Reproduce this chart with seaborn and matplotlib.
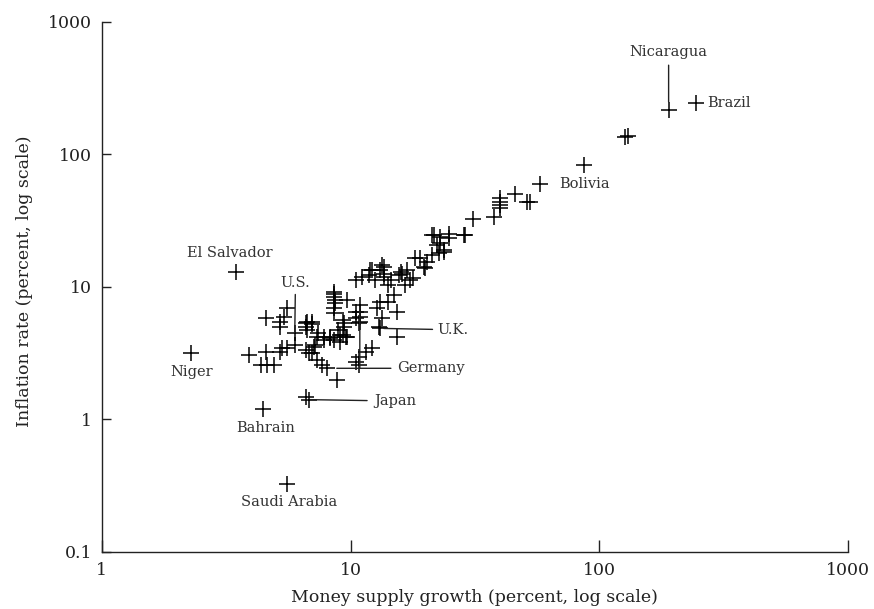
import numpy as np
import pandas as pd
import matplotlib
matplotlib.use("Agg")
import matplotlib.pyplot as plt
import seaborn as sns

# money supply growth vs inflation, both in percent
money_growth = [
    127, 130, 86.5, 51, 52.5, 45.7, 40, 40, 40, 40, 37.6, 31.1, 28.8, 24.8,
    21.6, 23, 23.7, 19.1, 20.3, 19.7, 22.3, 23.7, 22.6, 21.3, 18.2, 19.9,
    16.9, 15.9, 15.6, 17.9, 17.4, 16.6, 14.5, 14.2, 14.9, 13.6, 13.6, 13.2,
    13.4, 12.2, 11.9, 11.1, 10.5, 12.6, 8.57, 8.57, 8.7, 9.7, 8.57, 13.2,
    12.8, 14.2, 15.4, 13.4, 13.0, 15.4, 10.9, 10.9, 10.9, 10.9, 10.5, 10.5,
    10.8, 9.3, 9.4, 8.9, 9.3, 9.6, 8.3, 8.6, 7.8, 7.4, 12.2, 11.5, 10.8,
    10.5, 10.8, 6.7, 7.0, 6.6, 7.2, 6.8, 4.56, 5.57, 5.4, 5.23, 5.23, 6.6,
    7.0, 6.7, 9.1, 6.0, 5.57, 5.3, 5.23, 4.56, 3.9, 4.36, 4.63, 4.92, 6.6,
    7.0, 7.35, 7.7, 8.84, 7.35, 7.1, 7.8, 8.3, 9.1, 9.7, 8.57, 8.7, 8.57,
    9.4, 28.5, 24.8, 23.0, 21.3, 6.6, 12.0, 13.6, 16.1,
]
inflation = [
    135, 137, 83, 43.9, 43.4, 49.9, 46.4, 43.8, 41.4, 39.1, 33.8, 32.4, 24.6,
    25, 24.6, 21.3, 18.4, 16.4, 15.5, 14.2, 20.7, 18.9, 17.9, 17.4, 16.4,
    13.8, 13.4, 13.0, 12.3, 11.6, 11.3, 10.3, 11.3, 10.3, 8.7, 12.6, 11.9,
    13.4, 14.6, 13.4, 12.3, 11.9, 11.3, 11.3, 9.2, 8.4, 7.5, 7.95, 6.9, 7.7,
    6.9, 7.7, 6.5, 5.8, 5.0, 4.2, 7.3, 6.5, 5.95, 5.45, 6.5, 5.8, 5.3, 5.6,
    5.0, 4.72, 4.33, 4.2, 4.2, 3.97, 4.2, 4.46, 3.44, 3.24, 2.97, 2.7, 2.57,
    5.46, 5.2, 5.0, 3.64, 3.15, 5.85, 6.9, 5.96, 5.46, 5.0, 5.3, 5.46, 4.72,
    4.33, 3.64, 3.44, 3.44, 3.24, 3.24, 3.06, 2.57, 2.57, 2.57, 3.33, 3.15,
    2.81, 2.57, 1.98, 4.2, 3.53, 3.97, 4.1, 3.86, 4.2, 8.9, 7.95, 6.3, 5.3,
    24.6, 23.2, 23.9, 24.6, 1.47, 13.4, 14.2, 12.6,
]

countries = ["Nicaragua", "Brazil", "Bolivia", "El Salvador", "Niger",
             "Bahrain", "Saudi Arabia", "U.S.", "U.K.", "Germany", "Japan"]
country_growth = [190, 244, 58, 3.48, 2.29, 4.45, 5.57, 5.97, 13.2, 8.05, 6.8]
country_inflation = [215, 242, 60, 13.0, 3.15, 1.2, 0.326, 4.5, 4.86, 2.43, 1.41]

df = pd.DataFrame({
    "growth": money_growth + country_growth,
    "inflation": inflation + country_inflation,
})

sns.set_style("ticks")
plt.rcParams["font.family"] = ["DejaVu Serif"]

fig = plt.figure(figsize=(8.74, 6.09), dpi=100)
ax = fig.add_axes([0.1164, 0.0936, 0.8539, 0.8708])

sns.scatterplot(data=df, x="growth", y="inflation", marker="+", color="black",
                s=120, linewidth=1.1, ax=ax, legend=False)

ax.set_xscale("log")
ax.set_yscale("log")
ax.set_xlim(1, 1000)
ax.set_ylim(0.1, 1000)
ax.set_xticks([1, 10, 100, 1000])
ax.set_xticklabels(["1", "10", "100", "1000"])
ax.set_yticks([0.1, 1, 10, 100, 1000])
ax.set_yticklabels(["0.1", "1", "10", "100", "1000"])
ax.minorticks_off()

sns.despine(ax=ax)
for sp in ("left", "bottom"):
    ax.spines[sp].set_linewidth(1.0)
    ax.spines[sp].set_color("#222222")
ax.tick_params(axis="x", direction="in", length=9, width=1.0, pad=7,
               labelsize=12.5, colors="#222222")
ax.tick_params(axis="y", direction="in", length=6.7, width=1.0, pad=6.8,
               labelsize=12.5, colors="#222222")

ax.set_xlabel("Money supply growth (percent, log scale)", fontsize=12.5,
              color="#222222")
ax.set_ylabel("Inflation rate (percent, log scale)", fontsize=12.5,
              color="#222222")
ax.xaxis.set_label_coords(0.5, -0.070)
ax.yaxis.set_label_coords(-0.092, 0.51)

# label offsets in points, and leader line settings
label_style = {
    "Nicaragua":    dict(off=(0, 41.8), ha="center", va="center", line=(2, 6)),
    "Brazil":       dict(off=(8.6, 0), ha="left", va="center", line=None),
    "Bolivia":      dict(off=(13.7, 0), ha="left", va="center", line=None),
    "El Salvador":  dict(off=(-4.8, 13.7), ha="center", va="center", line=None),
    "Niger":        dict(off=(0, -13.2), ha="center", va="center", line=None),
    "Bahrain":      dict(off=(1.8, -13.5), ha="center", va="center", line=None),
    "Saudi Arabia": dict(off=(1, -12.7), ha="center", va="center", line=None),
    "U.S.":         dict(off=(0.5, 36), ha="center", va="center", line=(1, 0)),
    "U.K.":         dict(off=(41.3, -1), ha="left", va="center", line=(1.5, 2.4)),
    "Germany":      dict(off=(50.8, 0), ha="left", va="center", line=(2.5, 7)),
    "Japan":        dict(off=(47.3, -1), ha="left", va="center", line=(3, 1)),
}

for name, gx, iy in zip(countries, country_growth, country_inflation):
    st = label_style[name]
    arrow = None
    if st["line"] is not None:
        arrow = dict(arrowstyle="-", lw=1.0, color="#222222",
                     shrinkA=st["line"][0], shrinkB=st["line"][1])
    ax.annotate(name, xy=(gx, iy), xytext=st["off"], textcoords="offset points",
                ha=st["ha"], va=st["va"], fontsize=10.5, color="#333333",
                arrowprops=arrow)

# vertical part of the Germany leader
ger = countries.index("Germany")
ax.annotate("", xy=(10.9, 7.1), xytext=(10.9, country_inflation[ger]),
            arrowprops=dict(arrowstyle="-", lw=1.0, color="#222222",
                            shrinkA=0, shrinkB=0))

fig.savefig("out.png", dpi=100)
